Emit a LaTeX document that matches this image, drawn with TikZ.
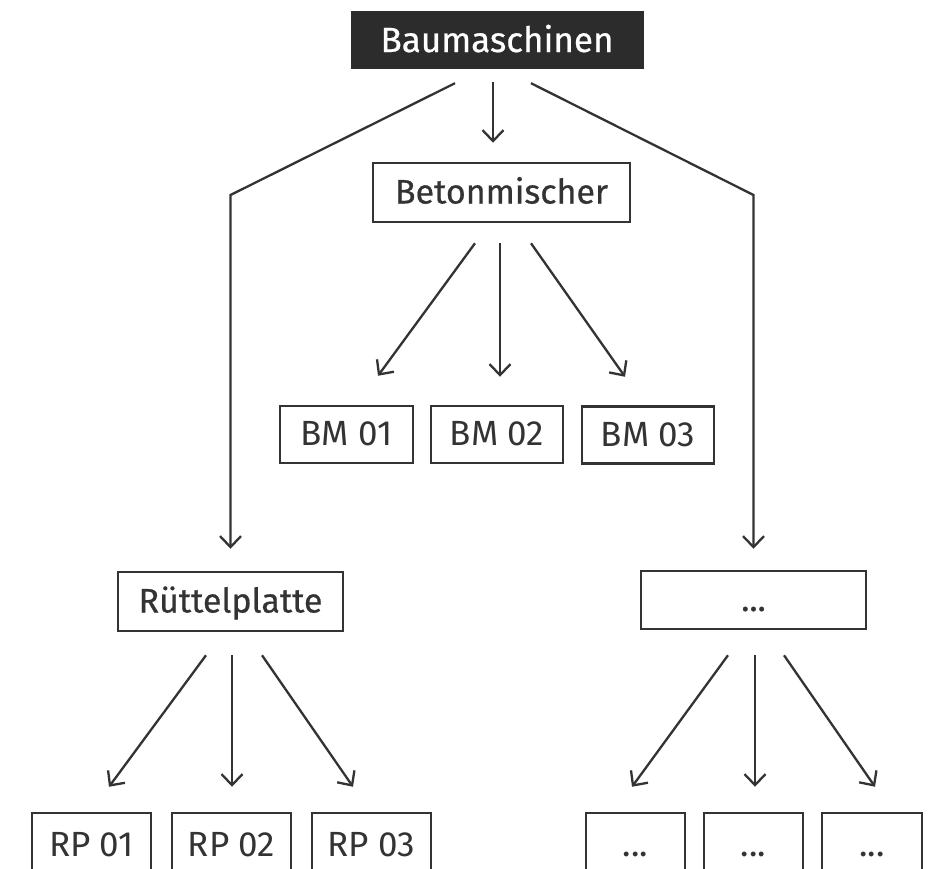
\documentclass[tikz,border=0pt]{standalone}
\usepackage{fontspec}
\setmainfont{Fira Sans}
\newfontfamily\headfont[FakeBold=0.6]{Fira Sans}
\usetikzlibrary{arrows.meta}
\definecolor{ink}{HTML}{333333}
\definecolor{headfill}{HTML}{2C2C2C}
\tikzset{
  box/.style={draw=ink, line width=2.5pt, inner sep=0pt, text=ink,
    font=\fontsize{35}{40}\selectfont, text height=22pt, text depth=0pt},
  groupbox/.style={box, font=\headfont\fontsize{34}{40}\selectfont},
  headbox/.style={fill=headfill, draw=headfill, inner sep=0pt, text=white,
    font=\headfont\fontsize{35}{40}\selectfont, text height=25pt, text depth=0pt},
  arr/.style={draw=ink, line width=2.3pt, -{Straight Barb[length=11pt,width=21pt,line width=2.3pt]}}
}
\begin{document}
\begin{tikzpicture}[x=1pt,y=-1pt]
\useasboundingbox (0,0) rectangle (931,868);
\clip (0,0) rectangle (931,868);
% top level
\node [headbox, minimum width=292pt, minimum height=57pt] (top) at (497,39.5) {Baumaschinen};
% second level
\node [groupbox, minimum width=257pt, minimum height=59pt] (beton) at (501.5,192.5) {Betonmischer};
\node [groupbox, minimum width=225pt, minimum height=59pt] (ruettel) at (230.5,601.5) {Rüttelplatte};
\node [groupbox, minimum width=225pt, minimum height=58pt] (more) at (753.5,600) {...};
% machines
\node [box, minimum width=133pt, minimum height=57pt] (bm1) at (346.5,434.5) {BM 01};
\node [box, minimum width=132pt, minimum height=57pt] (bm2) at (497,434.5) {BM 02};
\node [box, minimum width=132pt, minimum height=57pt] (bm3) at (648,435) {BM 03};
\node [box, minimum width=119pt, minimum height=64pt] (rp1) at (91.5,845) {RP 01};
\node [box, minimum width=119pt, minimum height=64pt] (rp2) at (231.5,845) {RP 02};
\node [box, minimum width=119pt, minimum height=64pt] (rp3) at (371.5,845) {RP 03};
\node [box, minimum width=99pt, minimum height=64pt] (m1) at (635.5,845) {...};
\node [box, minimum width=99pt, minimum height=64pt] (m2) at (753.5,845) {...};
\node [box, minimum width=100pt, minimum height=64pt] (m3) at (872,845) {...};
% connectors from the top
\draw [arr] ([xshift=-4pt,yshift=-14pt]top.south) -- ([xshift=-8.5pt,yshift=19pt]beton.north);
\draw [arr] ([xshift=-42pt,yshift=-15pt]top.south) -- (ruettel.north |- 0,195) -- ([yshift=22pt]ruettel.north);
\draw [arr] ([xshift=34pt,yshift=-15pt]top.south) -- (more.north |- 0,195) -- ([yshift=21pt]more.north);
% Betonmischer
\draw [arr] ([xshift=-26.5pt,yshift=-20pt]beton.south) -- ([xshift=31.5pt,yshift=29pt]bm1.north);
\draw [arr] ([xshift=-1.5pt,yshift=-20pt]beton.south) -- ([xshift=3pt,yshift=28pt]bm2.north);
\draw [arr] ([xshift=29.5pt,yshift=-20pt]beton.south) -- ([xshift=-23pt,yshift=28.5pt]bm3.north);
% Ruettelplatte
\draw [arr] ([xshift=-24.5pt,yshift=-23pt]ruettel.south) -- ([xshift=17.5pt,yshift=25pt]rp1.north);
\draw [arr] ([xshift=1.5pt,yshift=-23pt]ruettel.south) -- ([xshift=0.5pt,yshift=25pt]rp2.north);
\draw [arr] ([xshift=31.5pt,yshift=-23pt]ruettel.south) -- ([xshift=-18.5pt,yshift=25pt]rp3.north);
% others
\draw [arr] ([xshift=-25.5pt,yshift=-25pt]more.south) -- ([xshift=-3.5pt,yshift=25pt]m1.north);
\draw [arr] ([xshift=1.5pt,yshift=-25pt]more.south) -- ([xshift=1.5pt,yshift=25pt]m2.north);
\draw [arr] ([xshift=30.5pt,yshift=-25pt]more.south) -- ([xshift=3pt,yshift=25pt]m3.north);
\end{tikzpicture}
\end{document}
